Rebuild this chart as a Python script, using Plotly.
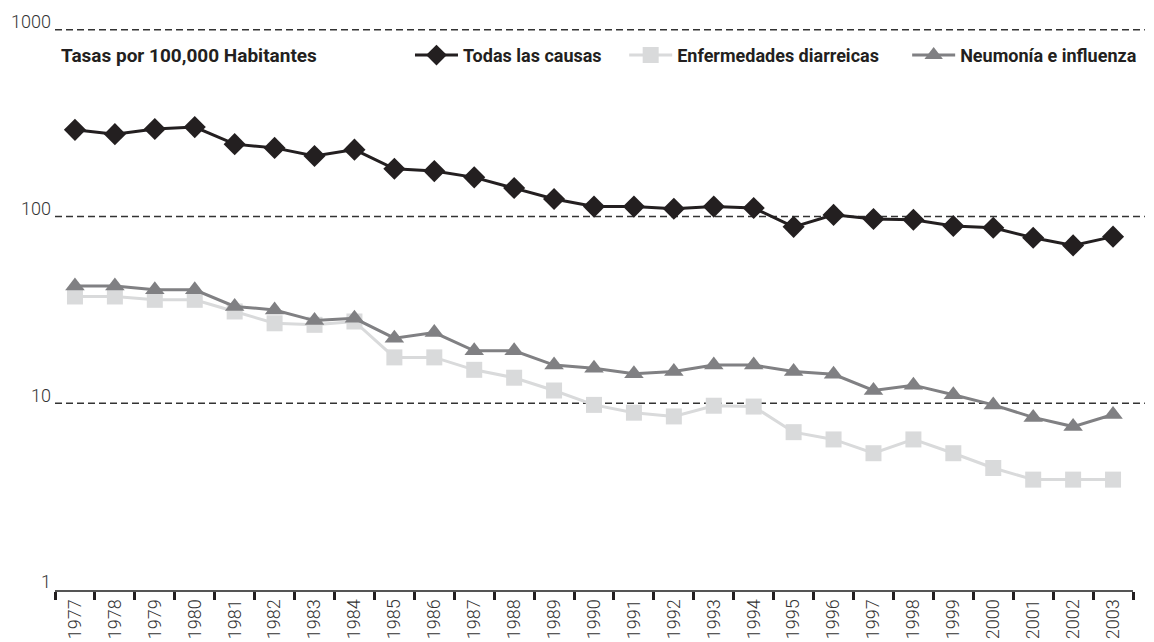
import math
import plotly.graph_objects as go

years = [str(y) for y in range(1977, 2004)]

todas_las_causas = [291, 276, 294, 301, 244, 233, 211, 228, 180, 175, 162, 142, 124,
                    113, 113, 110, 113, 111, 88, 102, 97, 96, 89, 87, 77, 70, 78]
enfermedades_diarreicas = [37.3, 37.3, 35.8, 35.8, 31.0, 26.8, 26.3, 27.4, 17.6, 17.6, 15.1, 13.7, 11.7,
                           9.8, 8.9, 8.5, 9.7, 9.6, 7.0, 6.4, 5.4, 6.4, 5.4, 4.5, 3.9, 3.9, 3.9]
neumonia_influenza = [42.5, 42.5, 40.5, 40.5, 33.0, 31.6, 27.7, 28.5, 22.3, 23.9, 19.1, 19.1, 16.0,
                      15.4, 14.4, 14.8, 16.0, 16.0, 14.8, 14.3, 11.7, 12.5, 11.1, 9.8, 8.4, 7.5, 8.7]

y_tickvals = [1, 10, 100, 1000]
y_ticktext = ["1", "10", "100", "1000"]
Y_LOG_RANGE = [0, 3.02]

FONT = "Roboto"
LEG_FONT = dict(family=FONT, size=18, color="#231f20", weight="bold")

fig = go.Figure()

fig.add_trace(go.Scatter(
    x=years, y=enfermedades_diarreicas, name="Enfermedades diarreicas",
    mode="lines+markers", legend="legend2",
    line=dict(color="#d9dadb", width=3),
    marker=dict(symbol="square", size=16, color="#d9dadb"),
))
fig.add_trace(go.Scatter(
    x=years, y=neumonia_influenza, name="Neumonía e influenza",
    mode="lines+markers", legend="legend3",
    line=dict(color="#808083", width=3),
    marker=dict(symbol="triangle-up", size=17, color="#808083"),
))
fig.add_trace(go.Scatter(
    x=years, y=todas_las_causas, name="Todas las causas",
    mode="lines+markers", legend="legend",
    line=dict(color="#231f20", width=3),
    marker=dict(symbol="diamond", size=17, color="#231f20"),
))

# dashed horizontal grid lines at the labelled decades, running to the page edge
span = Y_LOG_RANGE[1] - Y_LOG_RANGE[0]
for v in y_tickvals[1:]:
    frac = (math.log10(v) - Y_LOG_RANGE[0]) / span
    fig.add_shape(type="line", layer="below",
                  xref="paper", x0=0, x1=1.011, yref="paper", y0=frac, y1=frac,
                  line=dict(color="#333", width=1.3, dash="7px,4px"))

fig.add_annotation(
    text="<b>Tasas por 100,000 Habitantes</b>",
    xref="paper", yref="paper", x=0.004, y=0.948,
    xanchor="left", yanchor="middle", showarrow=False,
    font=dict(family=FONT, size=19, color="#231f20"),
)

def leg(x):
    return dict(orientation="h", x=x, xanchor="left", y=0.948, yanchor="middle",
                font=LEG_FONT, bgcolor="rgba(0,0,0,0)", itemwidth=43)

fig.update_layout(
    width=1154, height=642,
    margin=dict(l=55, r=12, t=26, b=52),
    paper_bgcolor="white", plot_bgcolor="white",
    font=dict(family=FONT, color="#231f20"),
    showlegend=True,
    legend=leg(0.3293),
    legend2=leg(0.5280),
    legend3=leg(0.7905),
    xaxis=dict(
        type="category", range=[-0.5, 26.5], autorange=False,
        tickson="boundaries", ticks="outside",
        ticklen=8, tickwidth=3, tickcolor="#231f20",
        showline=True, linecolor="#555", linewidth=2,
        showgrid=False, tickangle=-90, automargin=False,
        tickfont=dict(family=FONT, size=18, color="#333", weight=300),
    ),
    yaxis=dict(
        type="log", range=Y_LOG_RANGE, autorange=False, tickmode="array",
        tickvals=y_tickvals, ticktext=y_ticktext, automargin=False,
        showgrid=False,
        showline=False, zeroline=False, ticks="",
        ticklabelshift=-8, ticklabelstandoff=3,
        tickfont=dict(family=FONT, size=18, color="#333", weight=300),
    ),
)

fig.write_html("out.html", config={"displayModeBar": False},
               post_script="document.body.style.margin='0';")
